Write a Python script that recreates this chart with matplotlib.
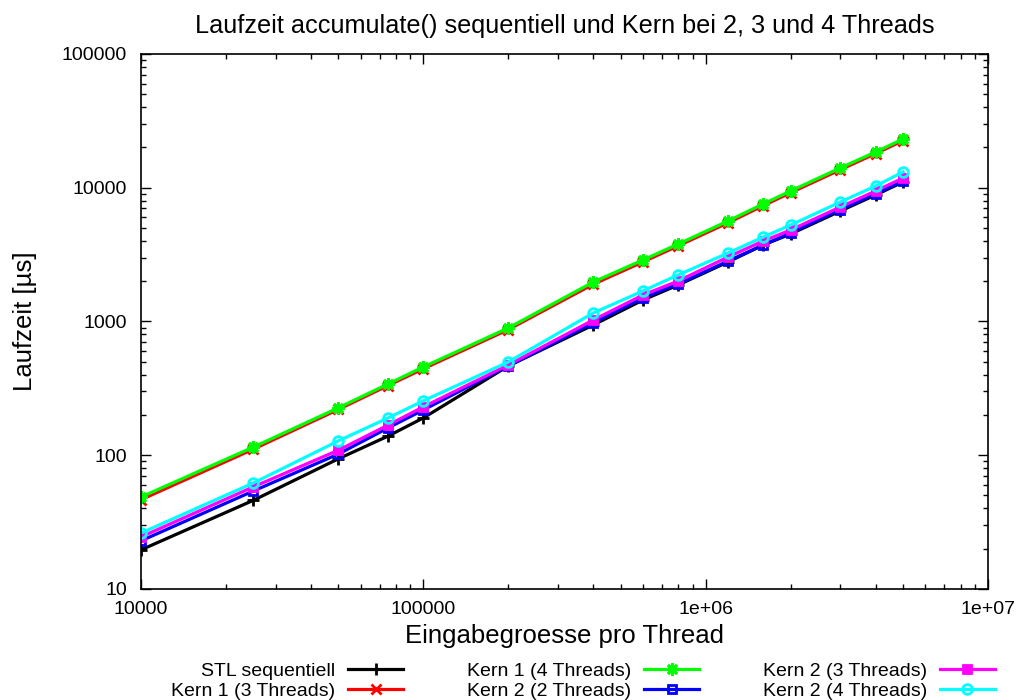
import matplotlib
matplotlib.use("Agg")
import matplotlib.pyplot as plt
from matplotlib.ticker import FixedLocator, LogLocator, NullFormatter

plt.rcParams["font.family"] = ["Liberation Sans", "DejaVu Sans"]

# input size per thread
sizes = [10000, 25000, 50000, 75000, 100000, 200000, 400000, 600000, 800000,
         1200000, 1600000, 2000000, 3000000, 4000000, 5000000]

# runtimes in microseconds
stl_seq = [19.6, 46, 94, 139, 190, 465, 942, 1448, 1876, 2786, 3733, 4510, 6700, 8830, 11040]
kern1_3t = [46.5, 111, 220, 332, 443, 870, 1900, 2790, 3680, 5470, 7350, 9180, 13650, 18000, 22500]
kern1_4t = [48.7, 115, 226, 341, 457, 894, 1973, 2884, 3794, 5640, 7570, 9460, 14060, 18500, 23130]
kern2_2t = [22.9, 54, 102, 160, 218, 465, 975, 1500, 1906, 2830, 3733, 4590, 6860, 8980, 11230]
kern2_3t = [24.5, 58, 109, 168, 230, 473, 1026, 1578, 2010, 3036, 4000, 4830, 7180, 9460, 11830]
kern2_4t = [26.2, 62, 128, 190, 255, 498, 1158, 1692, 2230, 3250, 4280, 5260, 7820, 10300, 13120]

series = [
    ("STL sequentiell", stl_seq, "#000000", "+", "full", 8),
    ("Kern 1 (3 Threads)", kern1_3t, "#ff0000", "x", "full", 7),
    ("Kern 1 (4 Threads)", kern1_4t, "#00ff00", (8, 2, 0), "full", 9),
    ("Kern 2 (2 Threads)", kern2_2t, "#0000ff", "s", "none", 6),
    ("Kern 2 (3 Threads)", kern2_3t, "#ff00ff", "s", "full", 6),
    ("Kern 2 (4 Threads)", kern2_4t, "#00ffff", "o", "none", 7),
]

x_ticks = [1e4, 1e5, 1e6, 1e7]
x_tick_labels = ["10000", "100000", "1e+06", "1e+07"]
y_ticks = [10, 100, 1000, 10000, 100000]
y_tick_labels = ["10", "100", "1000", "10000", "100000"]

fig = plt.figure(figsize=(10.23, 7.0), dpi=100)
ax = fig.add_axes([0.1378, 0.1586, 0.828, 0.7643])

for label, vals, color, marker, fill, msize in series:
    ax.plot(sizes, vals, color=color, lw=2.3, marker=marker, markersize=msize,
            markeredgewidth=2, fillstyle=fill, label=label)

ax.set_xscale("log")
ax.set_yscale("log")
ax.set_xlim(1e4, 1e7)
ax.set_ylim(10, 1e5)

ax.xaxis.set_major_locator(FixedLocator(x_ticks))
ax.set_xticklabels(x_tick_labels)
ax.yaxis.set_major_locator(FixedLocator(y_ticks))
ax.set_yticklabels(y_tick_labels)
for axis in (ax.xaxis, ax.yaxis):
    axis.set_minor_locator(LogLocator(base=10, subs=range(2, 10), numticks=20))
    axis.set_minor_formatter(NullFormatter())

ax.tick_params(which="both", direction="in", top=True, right=True, width=1,
               labelsize=14, color="black")
ax.tick_params(which="major", length=7)
ax.tick_params(which="minor", length=3.5)
ax.tick_params(axis="y", which="major", pad=10)
ax.tick_params(axis="x", which="major", pad=9)
for sp in ax.spines.values():
    sp.set_linewidth(1.2)

ax.set_title("Laufzeit accumulate() sequentiell und Kern bei 2, 3 und 4 Threads",
             fontsize=18.2, pad=15)
ax.set_xlabel("Eingabegroesse pro Thread", fontsize=18.5, labelpad=4)
ax.set_ylabel("Laufzeit [µs]", fontsize=18.5, labelpad=18)

ax.legend(loc="upper center", bbox_to_anchor=(0.522, -0.123), ncol=3,
          frameon=False, markerfirst=False, fontsize=14, handlelength=2.85,
          handletextpad=0.65, columnspacing=3.27, labelspacing=0.12,
          borderaxespad=0)

fig.savefig("out.png", dpi=100)
